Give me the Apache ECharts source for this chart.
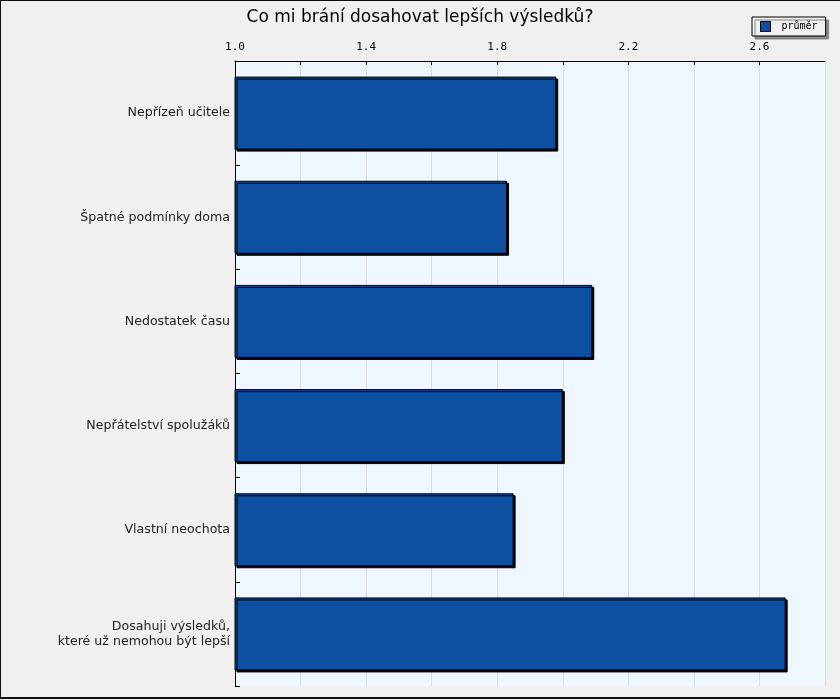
<!DOCTYPE html>
<html><head><meta charset="utf-8">
<script src="https://cdn.jsdelivr.net/npm/echarts@6/dist/echarts.min.js"></script>
<style>
html,body{margin:0;padding:0;background:#f0f0f0;}
#c{position:absolute;left:0;top:0;width:840px;height:700px;}
#b{position:absolute;left:0;top:0;width:839px;height:696px;border-left:1px solid #111;border-top:1px solid #111;border-bottom:2px solid #111;pointer-events:none;}
</style></head>
<body><div id="c"></div><div id="b"></div>
<script>
const title = 'Co mi brání dosahovat lepších výsledků?';
const seriesName = 'průměr';
const categories = [
  'Nepřízeň učitele',
  'Špatné podmínky doma',
  'Nedostatek času',
  'Nepřátelství spolužáků',
  'Vlastní neochota',
  'Dosahuji výsledků,\nkteré už nemohou být lepší'
];
const values = [1.98, 1.83, 2.09, 2.00, 1.85, 2.68];
const tickLabels = ['1.0', '1.4', '1.8', '2.2', '2.6'];

const chart = echarts.init(document.getElementById('c'));
chart.setOption({
  backgroundColor: '#f0f0f0',
  animation: false,
  title: {
    text: title, left: 'center', top: 4,
    textStyle: {fontFamily: 'DejaVu Sans', fontSize: 17, fontWeight: 'normal', color: '#000'}
  },
  legend: {
    data: [seriesName], left: 752, top: 17, orient: 'horizontal',
    padding: [4, 8, 4, 8], itemWidth: 10, itemHeight: 10, itemGap: 5,
    backgroundColor: '#f0f0f0', borderColor: '#000', borderWidth: 1,
    shadowColor: '#888', shadowOffsetX: 3, shadowOffsetY: 3, shadowBlur: 0,
    icon: 'rect',
    itemStyle: {borderColor: '#000', borderWidth: 1, shadowOffsetX: 0, shadowOffsetY: 0, shadowBlur: 0},
    textStyle: {fontFamily: 'DejaVu Sans Mono', fontSize: 10, color: '#000', padding: [0, 0, 0, 6]}
  },
  grid: {
    left: 235, right: 15, top: 61, bottom: 14,
    show: true, backgroundColor: '#eef6ff', borderWidth: 0, containLabel: false
  },
  xAxis: {
    type: 'value', position: 'top', min: 1.0, max: 2.8, interval: 0.2,
    axisLine: {show: true, onZero: false, lineStyle: {color: '#000', width: 1}},
    axisTick: {show: true, inside: true, length: 4, lineStyle: {color: '#000'}},
    splitLine: {show: true, lineStyle: {color: '#d9dce0', width: 1}},
    axisLabel: {
      margin: 8, color: '#000', fontFamily: 'DejaVu Sans Mono', fontSize: 11,
      showMaxLabel: false,
      formatter: function (v) {
        const s = v.toFixed(1);
        return tickLabels.indexOf(s) >= 0 ? s : '';
      }
    }
  },
  yAxis: {
    type: 'category', data: categories, inverse: true,
    axisLine: {show: true, lineStyle: {color: '#000', width: 1}},
    axisTick: {show: true, inside: true, length: 5, alignWithLabel: false, lineStyle: {color: '#000'}},
    splitLine: {show: false},
    axisLabel: {
      margin: 5, color: '#222', fontFamily: 'DejaVu Sans', fontSize: 12.6, lineHeight: 15, align: 'right'
    }
  },
  series: [{
    name: seriesName, type: 'bar', data: values, barWidth: 73,
    itemStyle: {
      color: '#0d4fa0', borderColor: '#000', borderWidth: 1,
      shadowColor: '#000', shadowOffsetX: 2, shadowOffsetY: 2, shadowBlur: 0
    }
  }]
});
</script>
</body></html>
